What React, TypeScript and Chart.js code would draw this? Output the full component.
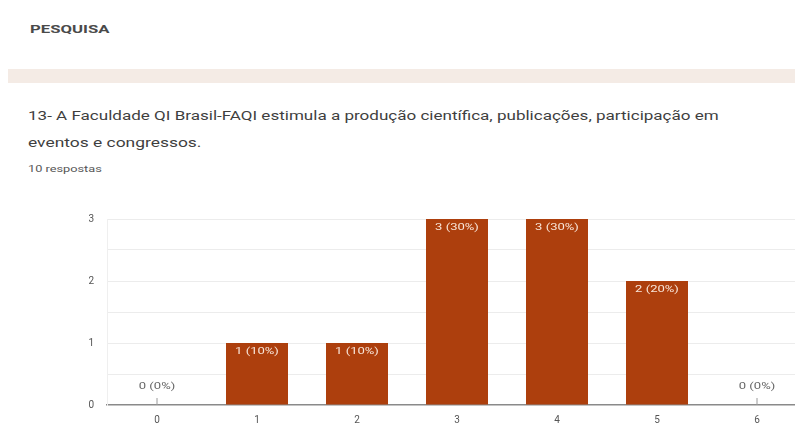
import React, { useEffect, useRef } from "react";
import { Chart, registerables } from "chart.js";

Chart.register(...registerables);

const categories = ["0", "1", "2", "3", "4", "5", "6"];
const counts = [0, 1, 1, 3, 3, 2, 0];
const percents = ["0%", "10%", "10%", "30%", "30%", "20%", "0%"];
const yTickLabels = ["0", "1", "2", "3"];

const sectionTitle = "PESQUISA";
const questionLine1 = "13- A Faculdade QI Brasil-FAQI estimula a produção científica, publicações, participação em";
const questionLine2 = "eventos e congressos.";
const responsesText = "10 respostas";

const barColor = "#ad3f0d";
const stretch = 1.45;

const labelPlugin = {
  id: "barLabels",
  afterDatasetsDraw(chart: any) {
    const { ctx } = chart;
    const meta = chart.getDatasetMeta(0);
    const base = chart.scales.y.getPixelForValue(0);
    meta.data.forEach((bar: any, i: number) => {
      const text = `${counts[i]} (${percents[i]})`;
      ctx.save();
      if (counts[i] === 0) {
        ctx.strokeStyle = "#9a9a9a";
        ctx.lineWidth = 1;
        ctx.beginPath();
        ctx.moveTo(bar.x, base);
        ctx.lineTo(bar.x, base - 7);
        ctx.stroke();
      }
      const ty = counts[i] === 0 ? base - 18 : bar.y + 9;
      ctx.translate(bar.x, ty);
      ctx.scale(stretch, 1);
      ctx.font = "9px 'Roboto', 'Noto Sans', sans-serif";
      ctx.textAlign = "center";
      ctx.textBaseline = "middle";
      ctx.fillStyle = counts[i] === 0 ? "#666" : "#f8e6da";
      ctx.fillText(text, 0, 0);
      ctx.restore();
    });
  },
};

function App() {
  const ref = useRef<HTMLCanvasElement>(null);
  useEffect(() => {
    if (!ref.current) return;
    const chart = new Chart(ref.current, {
      type: "bar",
      data: {
        labels: categories,
        datasets: [
          {
            data: counts,
            backgroundColor: barColor,
            barPercentage: 0.62,
            categoryPercentage: 1,
          },
        ],
      },
      options: {
        animation: false,
        responsive: false,
        layout: { padding: { left: 0, right: 23, top: 15, bottom: 0 } },
        plugins: { legend: { display: false }, tooltip: { enabled: false } },
        scales: {
          x: {
            grid: { display: false, drawTicks: false },
            border: { color: "#8a8a8a", width: 1.5 },
            ticks: {
              color: "#555",
              font: { size: 10, family: "'Roboto', 'Noto Sans', sans-serif" },
              padding: 9,
            },
            afterFit: (s: any) => {
              s.height = 22;
            },
          },
          y: {
            min: 0,
            max: 3,
            ticks: {
              stepSize: 0.5,
              color: "#555",
              font: { size: 10, family: "'Roboto', 'Noto Sans', sans-serif" },
              padding: 13,
              callback: (v: any) => (Number.isInteger(v) ? yTickLabels[v] : ""),
            },
            grid: {
              drawTicks: false,
              color: (c: any) => (c.tick && c.tick.value === 0 ? "rgba(0,0,0,0)" : "#ececec"),
            },
            border: { color: "#efefef" },
            afterFit: (s: any) => {
              s.width = 107;
            },
          },
        },
      },
      plugins: [labelPlugin],
    });
    return () => chart.destroy();
  }, []);

  const font = "'Roboto', 'Noto Sans', sans-serif";
  const textStyle = (top: number, size: number, sx: number, extra: any = {}) => ({
    position: "absolute" as const,
    left: 28,
    top,
    fontSize: size,
    color: "#3f3f3f",
    whiteSpace: "nowrap" as const,
    transform: `scaleX(${sx})`,
    transformOrigin: "left center",
    ...extra,
  });
  return (
    <div
      style={{
        position: "absolute",
        left: 0,
        top: 0,
        width: 795,
        height: 427,
        overflow: "hidden",
        background: "#ffffff",
        fontFamily: font,
      }}
    >
      <div style={textStyle(23, 11, 1.52, { left: 30, fontWeight: 700, color: "#4a4a4a" })}>
        {sectionTitle}
      </div>
      <div
        style={{
          position: "absolute",
          left: 8,
          top: 69,
          width: 787,
          height: 14,
          background: "#f4ebe5",
        }}
      />
      <div style={textStyle(109, 12, 1.42)}>{questionLine1}</div>
      <div style={textStyle(136, 12, 1.45)}>{questionLine2}</div>
      <div style={textStyle(164, 8.5, 1.5, { color: "#555" })}>{responsesText}</div>
      <canvas
        ref={ref}
        width={830}
        height={227}
        style={{ position: "absolute", left: 0, top: 200, width: 830, height: 227 }}
      />
    </div>
  );
}

export default App;
